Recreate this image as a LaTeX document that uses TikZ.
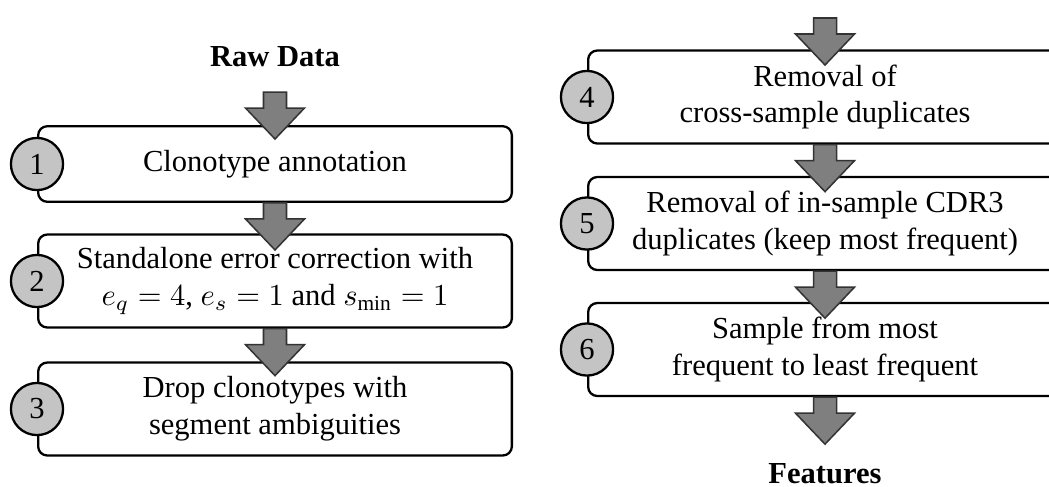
\documentclass[tikz,border=0pt]{standalone}
\usepackage{fontspec}
\setmainfont{Liberation Serif}
\usetikzlibrary{positioning}

\definecolor{arrowgray}{HTML}{7F7F7F}
\definecolor{numgray}{HTML}{C4C4C4}

\begin{document}
\begin{tikzpicture}[
        x=0.0115cm, y=-0.0115cm,
        stepbox/.style={
        draw,
        line width=0.75pt,
        rounded corners=3pt,
        fill=white,
        minimum width=5.45cm,
        minimum height=1.07cm,
        align=center
      },
      stepnum/.style={
        circle,
        draw,
        line width=0.75pt,
        fill=numgray,
        minimum size=0.6cm,
        inner sep=0pt
      },
      flowarrow/.pic={
        \draw[fill=arrowgray, draw=black!80, line width=0.5pt, line join=miter]
          (-11.5,0) -- (-11.5,16) -- (-29.5,16) -- (0,47)
          -- (29.5,16) -- (11.5,16) -- (11.5,0) -- cycle;
      }
    ]

    \useasboundingbox (0,0) rectangle (1049,486);

    \node[font=\bfseries] (raw) at (275,57) {Raw Data};
    \coordinate (in1) at (275,92);

    \node[stepbox, minimum height=0.87cm] (b1) at (275,164) {Clonotype annotation};
    \node[stepbox] (b2) at (275,281)
      {Standalone error correction with\\
       $e_q = 4$, $e_s = 1$ and $s_{\mathrm{min}} = 1$};
    \node[stepbox] (b3) at (275,409) {Drop clonotypes with\\ segment ambiguities};

    \coordinate (in4) at (825,18);
    \node[stepbox] (b4) at (825,97) {Removal of\\ cross-sample duplicates};
    \node[stepbox] (b5) at (825,223.5)
      {Removal of in-sample CDR3\\ duplicates (keep most frequent)};
    \node[stepbox] (b6) at (825,349.5)
      {Sample from most\\ frequent to least frequent};
    \node[font=\bfseries] (feat) at (825,474) {Features};

    \node[stepnum] (n1) at (b1.west) {1};
    \node[stepnum] (n2) at (b2.west) {2};
    \node[stepnum] (n3) at (b3.west) {3};
    \node[stepnum] (n4) at (b4.west) {4};
    \node[stepnum] (n5) at (b5.west) {5};
    \node[stepnum] (n6) at (b6.west) {6};

    \pic at (in1) {flowarrow};
    \pic at (b1.south) {flowarrow};
    \pic at (b2.south) {flowarrow};

    \pic at (in4) {flowarrow};
    \pic at (b4.south) {flowarrow};
    \pic at (b5.south) {flowarrow};
    \pic at (b6.south) {flowarrow};

  \end{tikzpicture}
\end{document}
